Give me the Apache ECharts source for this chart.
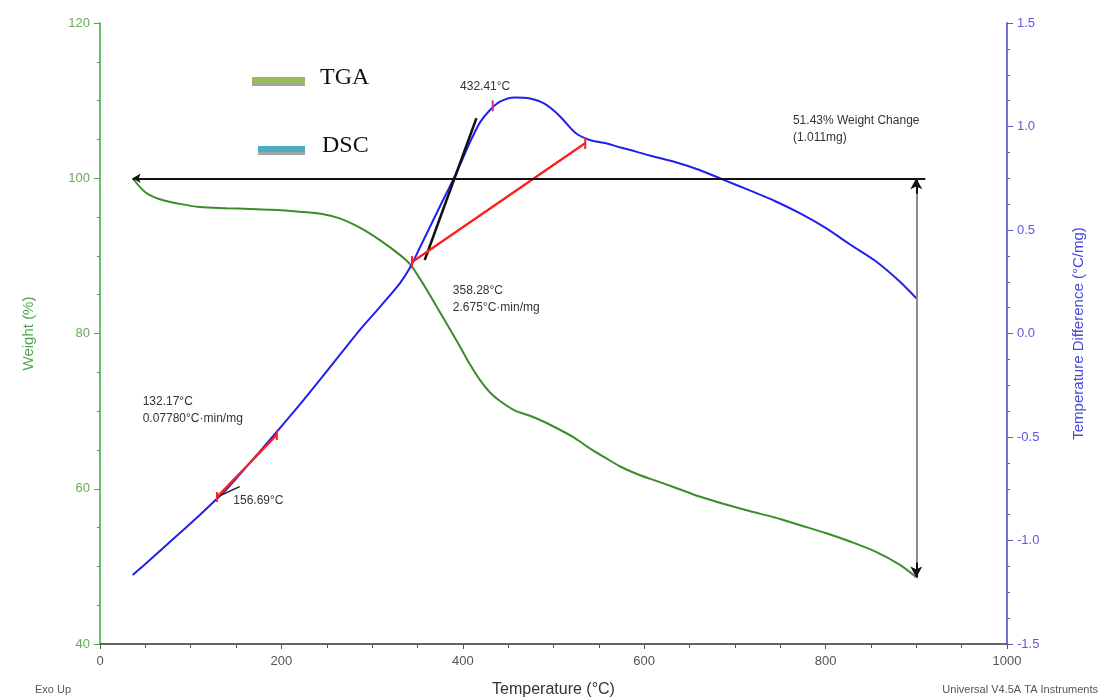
<!DOCTYPE html>
<html>
<head>
<meta charset="utf-8">
<script src="https://cdn.jsdelivr.net/npm/echarts@6/dist/echarts.min.js"></script>
<style>
  html, body { margin: 0; padding: 0; background: #fff; }
  #chart { width: 1109px; height: 700px; }
</style>
</head>
<body>
<div id="chart"></div>
<script>
// temperature (°C) shared by both curves
const temps = [36, 50, 66, 88, 110, 140, 165, 190, 220, 245, 265, 287, 309, 331, 342, 353, 364, 375,
  386, 397, 408, 419, 430, 441, 457, 474, 490, 507, 524, 540, 557, 573, 590, 606, 633, 661, 689,
  717, 744, 772, 800, 827, 855, 882, 900];
const tgaWeight = [100, 98.2, 97.3, 96.7, 96.3, 96.15, 96.05, 95.95, 95.7, 95.4, 94.8, 93.6, 92.0, 90.1,
  88.9, 87.0, 84.9, 82.7, 80.5, 78.3, 76.0, 74.0, 72.4, 71.3, 70.1, 69.4, 68.6, 67.6, 66.5, 65.2,
  64.0, 62.9, 62.0, 61.3, 60.2, 59.0, 58.0, 57.1, 56.3, 55.3, 54.3, 53.2, 51.9, 50.2, 48.6];
const dscDiff = [-1.167, -1.114, -1.051, -0.964, -0.877, -0.75, -0.626, -0.50, -0.345, -0.21, -0.10,
  0.02, 0.13, 0.245, 0.32, 0.418, 0.517, 0.616, 0.713, 0.816, 0.925, 1.02, 1.08, 1.12, 1.14, 1.135,
  1.11, 1.05, 0.97, 0.935, 0.92, 0.90, 0.88, 0.86, 0.83, 0.79, 0.74, 0.69, 0.64, 0.58, 0.51, 0.43,
  0.35, 0.25, 0.17];

const xTicks = [0, 200, 400, 600, 800, 1000];
const weightTicks = [40, 60, 80, 100, 120];
const diffTicks = [-1.5, -1.0, -0.5, 0.0, 0.5, 1.0, 1.5];

// analysis lines (data coords)
const weightLine = [[36, 100], [910, 100]];
const weightArrow = [[900, 100], [900, 48.57]];
const arrowTop = [[900, 98], [900, 100]];
const arrowBottom = [[900, 50.5], [900, 48.57]];
const onsetTangent = [[358, 0.355], [415, 1.04]];
const peakBaseline = [[344, 0.345], [535, 0.92]];
const peakMark = [[433, 1.10]];
const lowBaseline = [[129, -0.79], [195, -0.49]];
const lowTangent = [[154, -0.74], [129, -0.79]];

// annotation texts: [temp, value on right axis, text]
const notes = [
  [397, 1.191, '432.41°C'],
  [389, 0.164, '358.28°C\n2.675°C·min/mg'],
  [47, -0.372, '132.17°C\n0.07780°C·min/mg'],
  [147, -0.809, '156.69°C'],
  [764, 0.986, '51.43% Weight Change\n(1.011mg)']
];

const chart = echarts.init(document.getElementById('chart'));
const font = 'Liberation Sans, Arial, sans-serif';

function lineSeries(data, color, yIdx, width) {
  return {
    type: 'line', yAxisIndex: yIdx, data: data, symbol: 'none',
    lineStyle: { color: color, width: width || 2 }, z: 4, silent: true
  };
}

chart.setOption({
  animation: false,
  grid: { left: 100, right: 102, top: 23, bottom: 56, outerBoundsMode: 'none', containLabel: false },
  xAxis: {
    type: 'value', min: 0, max: 1000, interval: 200,
    name: 'Temperature (°C)', nameLocation: 'middle', nameGap: 38,
    nameTextStyle: { color: '#333', fontSize: 16, fontFamily: font },
    axisLine: { onZero: false, lineStyle: { color: '#666', width: 2 } },
    axisTick: { lineStyle: { color: '#555' }, length: 5 },
    minorTick: { show: true, splitNumber: 4, length: 4, lineStyle: { color: '#555' } },
    axisLabel: { color: '#555', fontSize: 13, fontFamily: font, margin: 11,
      formatter: v => String(v) },
    splitLine: { show: false }
  },
  yAxis: [{
    type: 'value', min: 40, max: 120, interval: 20, position: 'left',
    name: 'Weight (%)', nameLocation: 'middle', nameGap: 64, nameRotate: 90,
    nameTextStyle: { color: '#4fa64f', fontSize: 15, fontFamily: font },
    axisLine: { show: true, lineStyle: { color: '#6cbf6c', width: 2 } },
    axisTick: { show: true, lineStyle: { color: '#5a9a5a' }, length: 6 },
    minorTick: { show: true, splitNumber: 4, length: 3, lineStyle: { color: '#5a9a5a' } },
    axisLabel: { color: '#6aaa5a', fontSize: 13, fontFamily: font, margin: 10 },
    splitLine: { show: false }
  }, {
    type: 'value', min: -1.5, max: 1.5, interval: 0.5, position: 'right',
    name: 'Temperature Difference (°C/mg)', nameLocation: 'middle', nameGap: 64, nameRotate: 90,
    nameTextStyle: { color: '#4a4ad8', fontSize: 15, fontFamily: font },
    axisLine: { show: true, lineStyle: { color: '#7070d8', width: 2 } },
    axisTick: { show: true, lineStyle: { color: '#5a5ac8' }, length: 6 },
    minorTick: { show: true, splitNumber: 4, length: 3, lineStyle: { color: '#5a5ac8' } },
    axisLabel: { color: '#5a5ae0', fontSize: 13, fontFamily: font, margin: 10,
      formatter: v => v.toFixed(1) },
    splitLine: { show: false }
  }],
  series: [
    {
      name: 'TGA', type: 'line', yAxisIndex: 0, smooth: 0.3, symbol: 'none',
      data: temps.map((t, i) => [t, tgaWeight[i]]),
      lineStyle: { color: '#3c8c2c', width: 2 }, z: 3,
      markLine: {
        silent: true, symbol: ['none', 'none'], label: { show: false },
        lineStyle: { color: '#111', width: 2, type: 'solid' },
        data: [
          [{ coord: weightLine[0], symbol: 'arrow', symbolSize: [7, 8] }, { coord: weightLine[1] }],
          [{ coord: weightArrow[0], lineStyle: { color: '#8a8a8a', width: 2 } },
           { coord: weightArrow[1] }],
          [{ coord: arrowTop[0] }, { coord: arrowTop[1], symbol: 'arrow', symbolSize: [9, 11] }],
          [{ coord: arrowBottom[0] }, { coord: arrowBottom[1], symbol: 'arrow', symbolSize: [9, 11] }]
        ]
      }
    },
    {
      name: 'DSC', type: 'line', yAxisIndex: 1, smooth: 0.3, symbol: 'none',
      data: temps.map((t, i) => [t, dscDiff[i]]),
      lineStyle: { color: '#2020ee', width: 2 }, z: 3
    },
    lineSeries(onsetTangent, '#111', 1, 2.5),
    lineSeries(peakBaseline, '#ff2020', 1, 2),
    lineSeries(lowBaseline, '#ff2020', 1, 2),
    lineSeries(lowTangent, '#222', 1, 1.5),
    Object.assign(lineSeries(peakBaseline, '#ff2020', 1, 0), {
      symbol: 'rect', symbolSize: [2, 12], showSymbol: true, itemStyle: { color: '#ff2020' }
    }),
    Object.assign(lineSeries(lowBaseline, '#ff2020', 1, 0), {
      symbol: 'rect', symbolSize: [2, 10], showSymbol: true, itemStyle: { color: '#ff2020' }
    }),
    Object.assign(lineSeries(peakMark, '#cc3399', 1, 0), {
      symbol: 'rect', symbolSize: [2, 11], showSymbol: true, itemStyle: { color: '#cc3399' }
    })
  ]
});

// annotation texts placed through the axes
const noteGraphics = notes.map(n => {
  const p = chart.convertToPixel({ xAxisIndex: 0, yAxisIndex: 1 }, [n[0], n[1]]);
  return {
    type: 'text', x: p[0], y: p[1], z: 10,
    style: { text: n[2], fill: '#333', font: '12px ' + font, lineHeight: 17,
      textVerticalAlign: 'middle', verticalAlign: 'middle' }
  };
});

chart.setOption({
  graphic: noteGraphics.concat([
    // legend
    { type: 'rect', shape: { x: 252, y: 77, width: 53, height: 6 }, style: { fill: '#9bbb59' } },
    { type: 'rect', shape: { x: 252, y: 83, width: 53, height: 3 }, style: { fill: '#a5a5a5' } },
    { type: 'text', x: 320, y: 78, style: { text: 'TGA', fill: '#111',
      font: '24px Liberation Serif, Times New Roman, serif', verticalAlign: 'middle' } },
    { type: 'rect', shape: { x: 258, y: 146, width: 47, height: 6 }, style: { fill: '#4bacc6' } },
    { type: 'rect', shape: { x: 258, y: 152, width: 47, height: 3 }, style: { fill: '#a5a5a5' } },
    { type: 'text', x: 322, y: 146, style: { text: 'DSC', fill: '#111',
      font: '24px Liberation Serif, Times New Roman, serif', verticalAlign: 'middle' } },
    // footer
    { type: 'text', x: 35, y: 690, style: { text: 'Exo Up', fill: '#555',
      font: '11px ' + font, verticalAlign: 'middle' } },
    { type: 'text', x: 1098, y: 690, style: { text: 'Universal V4.5A TA Instruments', fill: '#555',
      font: '11px ' + font, align: 'right', verticalAlign: 'middle' } }
  ])
});
</script>
</body>
</html>
